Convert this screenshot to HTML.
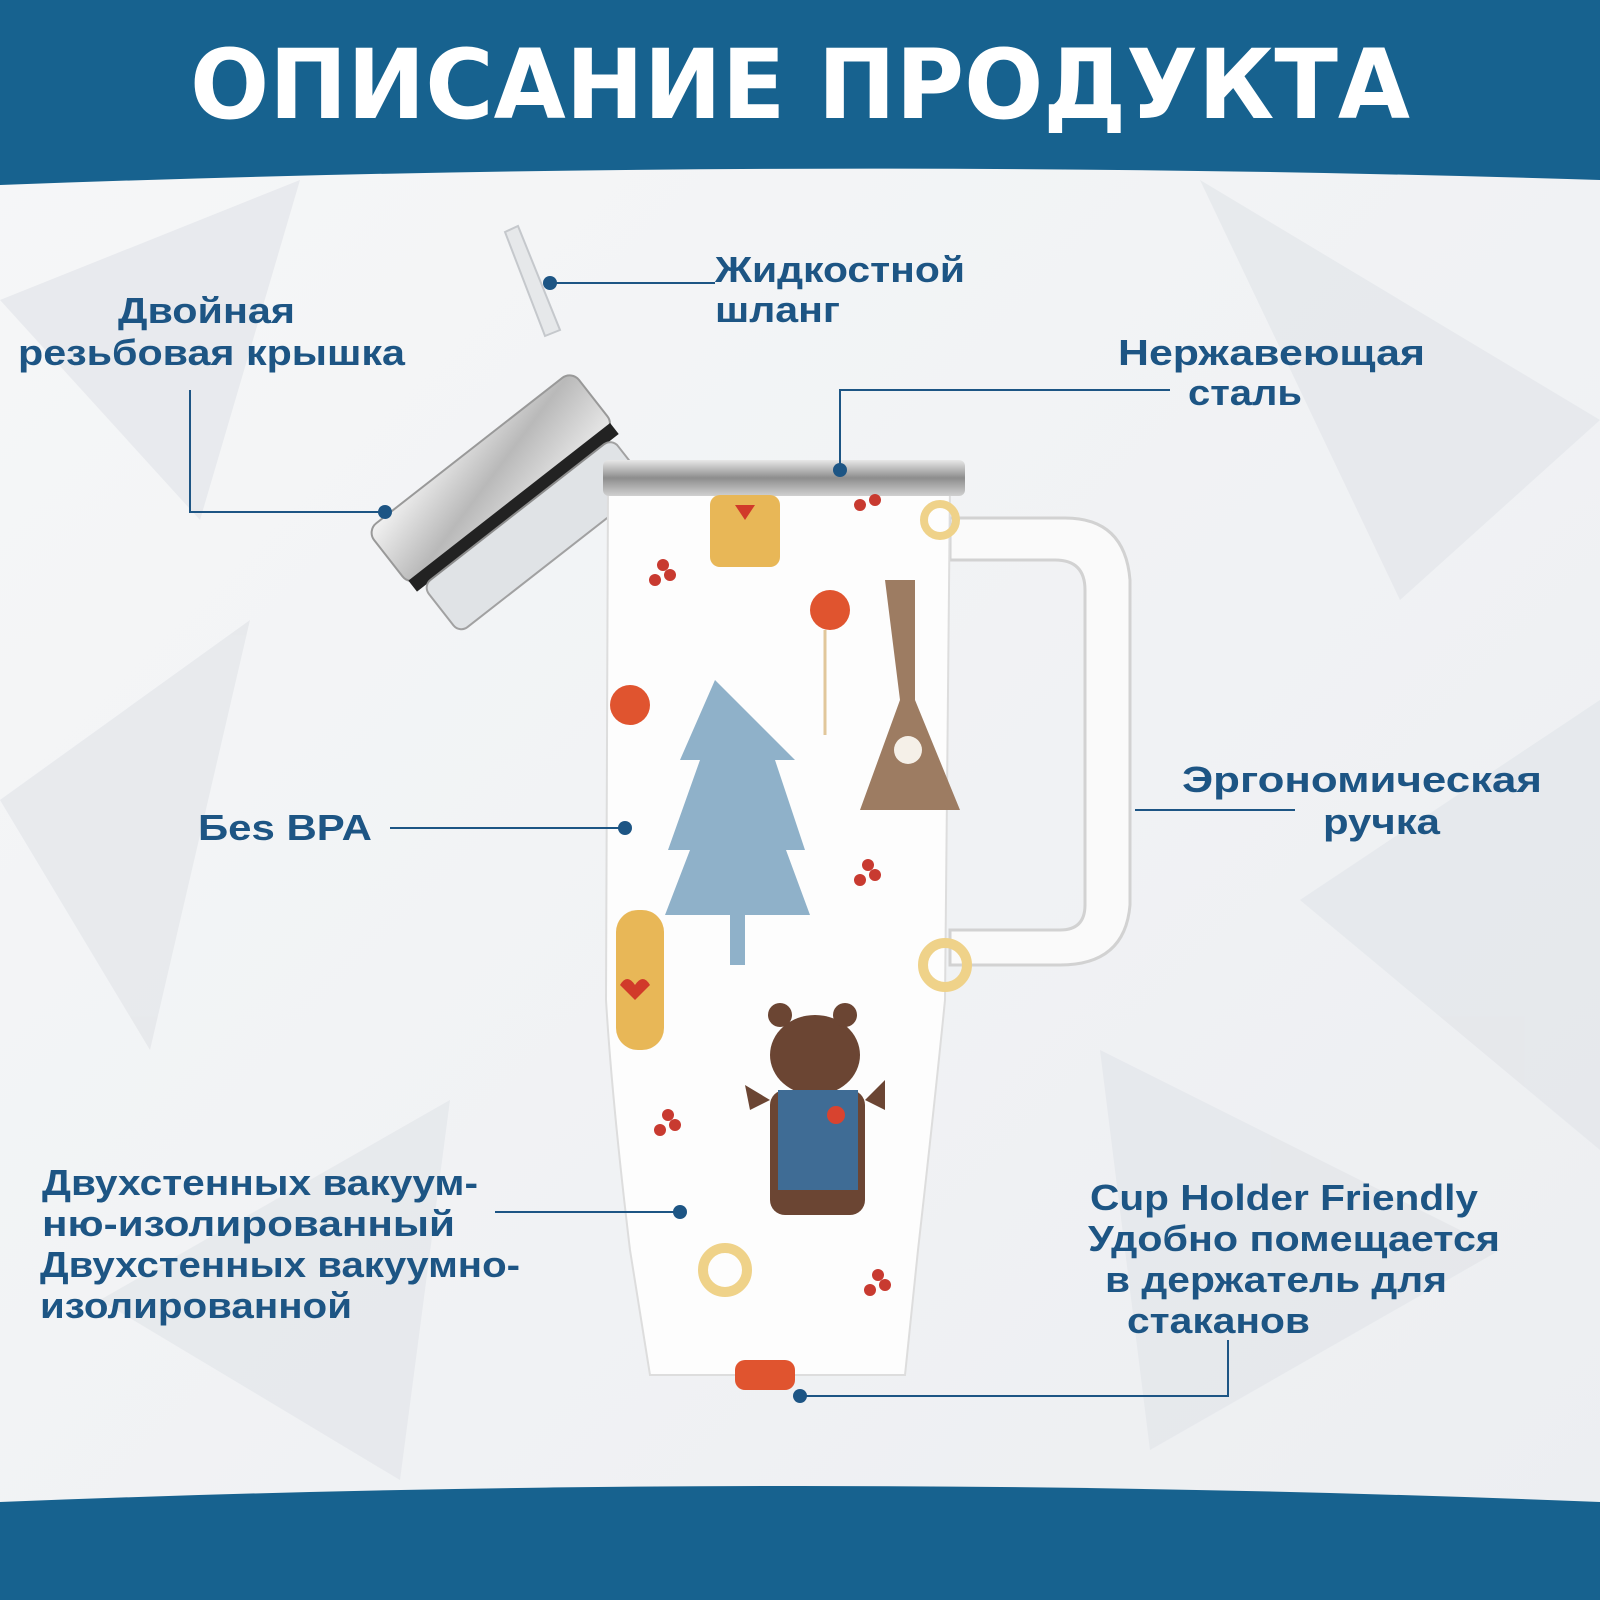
<!DOCTYPE html>
<html><head><meta charset="utf-8"><style>
html,body{margin:0;padding:0;width:1600px;height:1600px;overflow:hidden;background:#f1f2f4}
svg{display:block}
text{font-family:"Liberation Sans","DejaVu Sans",sans-serif;font-weight:bold;fill:#1d5584}
</style></head><body>
<svg width="1600" height="1600" viewBox="0 0 1600 1600" xmlns="http://www.w3.org/2000/svg">
<defs>
<linearGradient id="bg" x1="0" y1="0" x2="1" y2="1"><stop offset="0" stop-color="#f6f7f8"/><stop offset="1" stop-color="#eceef1"/></linearGradient>
<linearGradient id="steel" x1="0" y1="0" x2="0" y2="1"><stop offset="0" stop-color="#e8e8e8"/><stop offset="0.5" stop-color="#8d8d8d"/><stop offset="1" stop-color="#d0d0d0"/></linearGradient>
<linearGradient id="lid" x1="0" y1="0" x2="1" y2="1"><stop offset="0" stop-color="#f4f4f4"/><stop offset="0.5" stop-color="#b9b9b9"/><stop offset="1" stop-color="#eaeaea"/></linearGradient>
</defs>
<rect width="1600" height="1600" fill="url(#bg)"/>
<g fill="#e3e5e9" opacity="0.7">
<polygon points="0,300 300,180 200,520"/><polygon points="1200,180 1600,420 1400,600"/>
<polygon points="0,800 250,620 150,1050"/><polygon points="1300,900 1600,700 1600,1150"/>
<polygon points="100,1300 450,1100 400,1480"/><polygon points="1100,1050 1500,1250 1150,1450"/>
</g>
<path d="M0,0 H1600 V180 Q800,155 0,185 Z" fill="#17628f"/>
<text x="800" y="118" text-anchor="middle" font-size="96" style="fill:#fff;font-family:'DejaVu Sans','Liberation Sans',sans-serif;font-weight:900" textLength="1220" lengthAdjust="spacingAndGlyphs">ОПИСАНИЕ ПРОДУКТА</text>
<path d="M0,1502 Q800,1470 1600,1502 V1600 H0 Z" fill="#17628f"/>

<polygon points="505,232 518,226 560,330 545,336" fill="#e6e8ea" stroke="#c5c8cc" stroke-width="2"/>
<g transform="rotate(-38 500 490)">
<rect x="370" y="440" width="260" height="70" rx="12" fill="url(#lid)" stroke="#999" stroke-width="2"/>
<rect x="372" y="505" width="256" height="14" fill="#222"/>
<rect x="380" y="518" width="240" height="60" rx="10" fill="#dfe2e5" stroke="#999" stroke-width="2" opacity="0.9"/>
</g>
<path d="M950,518 H1065 Q1125,518 1130,580 V905 Q1125,965 1060,965 H950 V930 H1060 Q1085,930 1085,905 V590 Q1085,560 1055,560 H950 Z" fill="#fafafa" stroke="#d2d2d2" stroke-width="3"/>
<path d="M608,485 H950 L945,1000 Q935,1100 918,1250 L905,1375 H650 L630,1250 Q612,1100 606,1000 Z" fill="#fdfdfd" stroke="#ddd" stroke-width="2"/>
<rect x="603" y="460" width="362" height="36" rx="6" fill="url(#steel)"/>
<path d="M715,680 L680,760 H700 L668,850 H690 L665,915 H730 V965 H745 V915 H810 L786,850 H805 L775,760 H795 Z" fill="#8fb1c9"/>
<path d="M885,580 H915 V700 L960,810 H860 L900,700 Z" fill="#9d7c62"/>
<circle cx="908" cy="750" r="14" fill="#f5f0e8"/>
<rect x="710" y="495" width="70" height="72" rx="10" fill="#e8b757"/><path d="M735,505 l10,15 l10,-15 z" fill="#d13a2a"/>
<circle cx="830" cy="610" r="20" fill="#e0542f"/><line x1="825" y1="630" x2="825" y2="735" stroke="#e1c79b" stroke-width="3"/>
<circle cx="630" cy="705" r="20" fill="#e0542f"/>
<rect x="616" y="910" width="48" height="140" rx="22" fill="#e8b757"/><path d="M620,985 l15,15 l15,-15 q-7,-12 -15,0 q-8,-12 -15,0z" fill="#d13a2a"/>
<circle cx="945" cy="965" r="22" fill="none" stroke="#efd289" stroke-width="10"/>
<circle cx="725" cy="1270" r="22" fill="none" stroke="#efd289" stroke-width="10"/>
<circle cx="940" cy="520" r="16" fill="none" stroke="#efd289" stroke-width="8"/>
<g fill="#6b4533"><ellipse cx="815" cy="1055" rx="45" ry="40"/><circle cx="780" cy="1015" r="12"/><circle cx="845" cy="1015" r="12"/>
<rect x="770" y="1090" width="95" height="125" rx="15"/><path d="M770,1100 L745,1085 L750,1110 Z M865,1100 L885,1080 L885,1110 Z"/></g>
<rect x="778" y="1090" width="80" height="100" fill="#3f6c95"/><circle cx="836" cy="1115" r="9" fill="#d8432f"/>
<rect x="735" y="1360" width="60" height="30" rx="10" fill="#e0542f"/>
<g fill="#c83a30"><circle cx="655" cy="580" r="6"/><circle cx="670" cy="575" r="6"/><circle cx="663" cy="565" r="6"/>
<circle cx="860" cy="880" r="6"/><circle cx="875" cy="875" r="6"/><circle cx="868" cy="865" r="6"/>
<circle cx="660" cy="1130" r="6"/><circle cx="675" cy="1125" r="6"/><circle cx="668" cy="1115" r="6"/>
<circle cx="870" cy="1290" r="6"/><circle cx="885" cy="1285" r="6"/><circle cx="878" cy="1275" r="6"/>
<circle cx="860" cy="505" r="6"/><circle cx="875" cy="500" r="6"/></g>

<g stroke="#1d5584" stroke-width="2" fill="none">
<polyline points="550,283 715,283"/>
<polyline points="190,390 190,512 385,512"/>
<polyline points="1170,390 840,390 840,470"/>
<polyline points="390,828 625,828"/>
<polyline points="1295,810 1135,810"/>
<polyline points="495,1212 680,1212"/>
<polyline points="1228,1340 1228,1396 800,1396"/>
</g>
<g fill="#1d5584"><circle cx="550" cy="283" r="7"/><circle cx="385" cy="512" r="7"/><circle cx="840" cy="470" r="7"/>
<circle cx="625" cy="828" r="7"/><circle cx="680" cy="1212" r="7"/><circle cx="800" cy="1396" r="7"/></g>

<g font-size="36" lengthAdjust="spacingAndGlyphs">
<text x="715" y="282" textLength="250" lengthAdjust="spacingAndGlyphs">Жидкостной</text>
<text x="715" y="322" textLength="125" lengthAdjust="spacingAndGlyphs">шланг</text>
<text x="118" y="323" textLength="177" lengthAdjust="spacingAndGlyphs">Двойная</text>
<text x="18" y="365" textLength="387" lengthAdjust="spacingAndGlyphs">резьбовая крышка</text>
<text x="1118" y="365" textLength="307" lengthAdjust="spacingAndGlyphs">Нержавеющая</text>
<text x="1188" y="405" textLength="114" lengthAdjust="spacingAndGlyphs">сталь</text>
<text x="198" y="840" textLength="174" lengthAdjust="spacingAndGlyphs">Бes BPA</text>
<text x="1182" y="792" textLength="360" lengthAdjust="spacingAndGlyphs">Эргономическая</text>
<text x="1323" y="834" textLength="117" lengthAdjust="spacingAndGlyphs">ручка</text>
<text x="42" y="1195" textLength="436" lengthAdjust="spacingAndGlyphs">Двухстенных вакуум-</text>
<text x="42" y="1236" textLength="413" lengthAdjust="spacingAndGlyphs">ню-изолированный</text>
<text x="40" y="1277" textLength="480" lengthAdjust="spacingAndGlyphs">Двухстенных вакуумно-</text>
<text x="40" y="1318" textLength="312" lengthAdjust="spacingAndGlyphs">изолированной</text>
<text x="1090" y="1210" textLength="388" lengthAdjust="spacingAndGlyphs">Cup Holder Friendly</text>
<text x="1088" y="1251" textLength="412" lengthAdjust="spacingAndGlyphs">Удобно помещается</text>
<text x="1105" y="1292" textLength="342" lengthAdjust="spacingAndGlyphs">в держатель для</text>
<text x="1127" y="1333" textLength="183" lengthAdjust="spacingAndGlyphs">стаканов</text>
</g>
</svg>
</body></html>
